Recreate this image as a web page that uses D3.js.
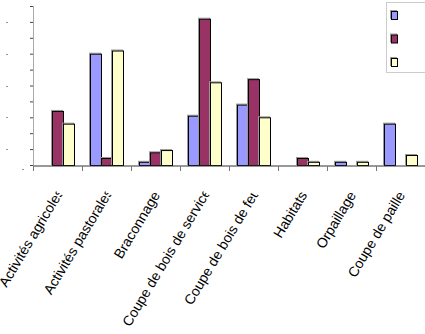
<!DOCTYPE html>
<html><head><meta charset="utf-8">
<script src="https://cdn.jsdelivr.net/npm/d3@7"></script>
<style>html,body{margin:0;padding:0;background:#fff;}svg{display:block;}</style>
</head><body>
<script>
const categories = ["Activités agricoles","Activités pastorales","Braconnage","Coupe de bois de service","Coupe de bois de feu","Habitats","Orpaillage","Coupe de paille"];
const seriesNames = ["Série 1","Série 2","Série 3"];
const series1 = [0, 70, 2, 31, 38, 0, 2, 26];
const series2 = [34, 4.4, 8, 92, 54, 4.4, 0, 0];
const series3 = [26, 72, 9.4, 52, 30, 2, 2, 6.3];
const colors = ["#9999FF","#993366","#FFFFCC"];
const yTicks = [0,10,20,30,40,50,60,70,80,90,100];

const W = 425, H = 334;
const svg = d3.select("body").append("svg").attr("width", W).attr("height", H);

const x = d3.scaleBand().domain(categories).range([33, 425]).padding(0);
const xs = d3.scaleBand().domain(seriesNames).range([8, 41]).padding(0);
const y = d3.scaleLinear().domain([0, 100]).range([165, 6]);

const allSeries = [series1, series2, series3];

// y axis
const yAxis = d3.axisLeft(y).tickValues(yTicks).tickSize(3).tickFormat("");
const yg = svg.append("g").attr("transform", "translate(33,0)").call(yAxis);
yg.select(".domain").attr("stroke", "#aaa");
yg.selectAll(".tick line").attr("stroke", "#444");

// faint clipped tick-label remnants
const remnantTicks = [10,30,50,70,90];
svg.selectAll("line.rem").data(remnantTicks).join("line")
  .attr("x1", 6).attr("x2", 8).attr("y1", d => Math.round(y(d)) + 0.5).attr("y2", d => Math.round(y(d)) + 0.5)
  .attr("stroke", "#999");
svg.append("line").attr("x1", 22).attr("x2", 24).attr("y1", 169.5).attr("y2", 169.5).attr("stroke", "#999");

// bars
allSeries.forEach((vals, si) => {
  const g = svg.append("g");
  const data = categories.map((c, i) => ({c, v: vals[i]})).filter(d => d.v > 0);
  g.selectAll("rect.sh").data(data).join("rect")
    .attr("x", d => x(d.c) + xs(seriesNames[si]) - 0.5)
    .attr("y", d => y(d.v) - 0.5)
    .attr("width", xs.bandwidth())
    .attr("height", d => y(0) - y(d.v))
    .attr("fill", "none").attr("stroke", "#999").attr("stroke-width", 1);
  g.selectAll("rect.b").data(data).join("rect")
    .attr("x", d => x(d.c) + xs(seriesNames[si]) + 0.5)
    .attr("y", d => y(d.v) + 0.5)
    .attr("width", xs.bandwidth())
    .attr("height", d => y(0) - y(d.v))
    .attr("fill", colors[si]).attr("stroke", "#000").attr("stroke-width", 1);
});

// x axis
const xAxis = d3.axisBottom(x).tickSize(0).tickFormat("");
const xg = svg.append("g").attr("transform", "translate(0,165.5)").call(xAxis);
xg.select(".domain").attr("stroke", "#333").attr("stroke-width", 1);
const bounds = categories.map(c => x(c));
svg.selectAll("line.ct").data(bounds).join("line")
  .attr("x1", d => d + 0.5).attr("x2", d => d + 0.5).attr("y1", 166).attr("y2", 171)
  .attr("stroke", "#777");

// labels
const limit = 105, cut = 3.5;
const defs = svg.append("defs");
const lg = svg.append("g").attr("font-family", "Liberation Sans, Arial, sans-serif").attr("font-size", "14px").attr("fill", "#000");
categories.forEach((c, i) => {
  const cx = x(c) + x.bandwidth() / 2 + 5;
  const gg = lg.append("g").attr("transform", `translate(${cx},195) rotate(-59)`);
  const inner = gg.append("g");
  const t = inner.append("text").text(c).attr("text-anchor", "end");
  const len = t.node().getComputedTextLength();
  if (len > limit) {
    t.attr("x", cut);
    const id = "clip" + i;
    defs.append("clipPath").attr("id", id).append("rect")
      .attr("x", -len - 5).attr("y", -20).attr("width", len + 5).attr("height", 30);
    inner.attr("clip-path", `url(#${id})`);
  }
});

// legend
const leg = svg.append("g");
leg.append("rect").attr("x", 386.5).attr("y", 2.5).attr("width", 45).attr("height", 70)
  .attr("fill", "#fff").attr("stroke", "#ccc");
seriesNames.forEach((s, i) => {
  const yy = 11 + i * 23.5;
  leg.append("rect").attr("x", 390.5).attr("y", yy - 0.5).attr("width", 6).attr("height", 8)
    .attr("fill", "none").attr("stroke", "#999");
  leg.append("rect").attr("x", 391.5).attr("y", yy + 0.5).attr("width", 6).attr("height", 8)
    .attr("fill", colors[i]).attr("stroke", "#000");
});
</script>
</body></html>
